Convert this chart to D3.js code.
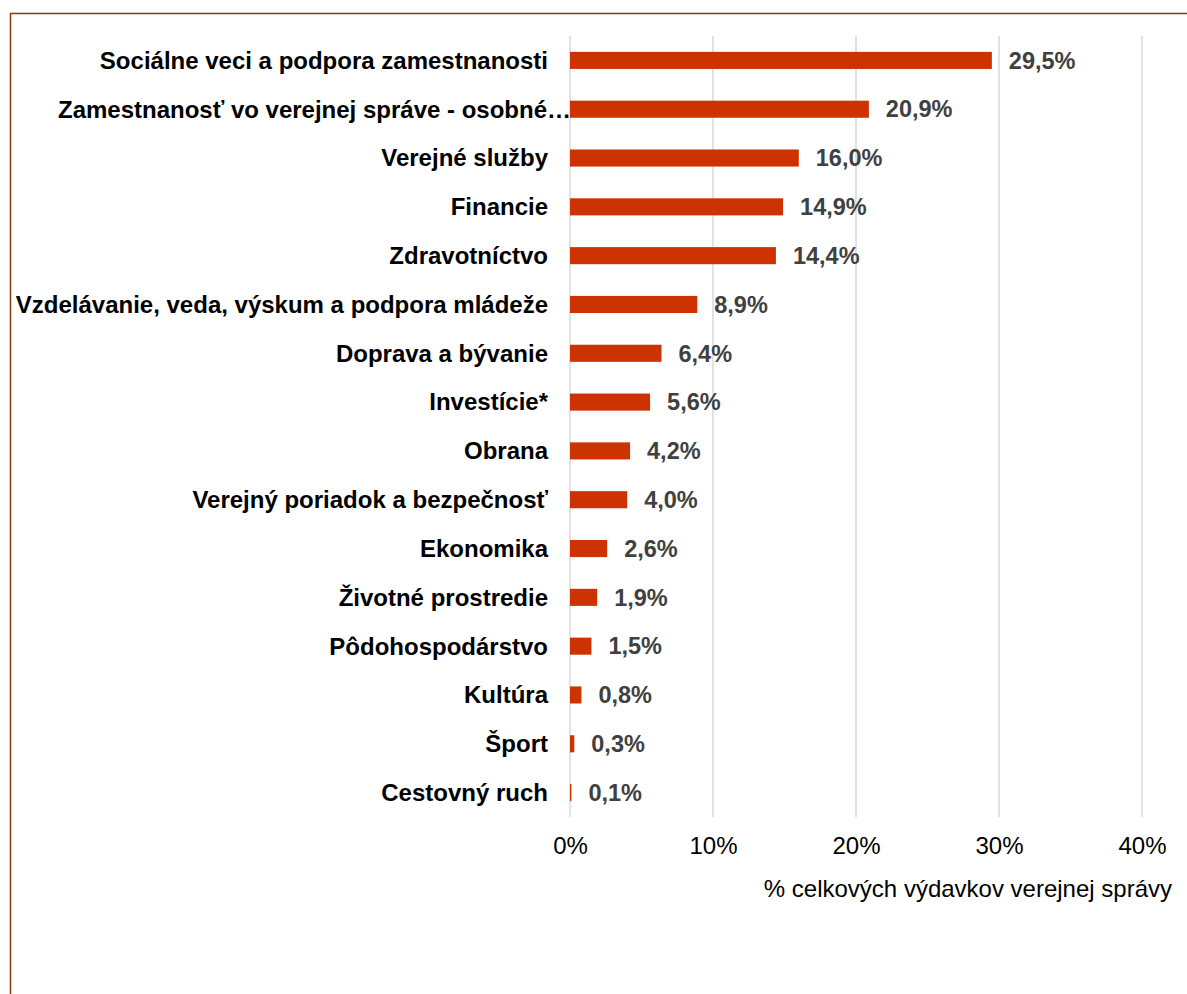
<!DOCTYPE html>
<html><head><meta charset="utf-8">
<script src="https://cdn.jsdelivr.net/npm/d3@7"></script>
<style>body{margin:0;background:#fff}svg{display:block}text{font-family:"Liberation Sans",Arial,sans-serif}</style>
</head><body><svg id="c" width="1187" height="994"></svg>
<script>
const categories = ["Sociálne veci a podpora zamestnanosti","Zamestnanosť vo verejnej správe - osobné…","Verejné služby","Financie","Zdravotníctvo","Vzdelávanie, veda, výskum a podpora mládeže","Doprava a bývanie","Investície*","Obrana","Verejný poriadok a bezpečnosť","Ekonomika","Životné prostredie","Pôdohospodárstvo","Kultúra","Šport","Cestovný ruch"];
const values = [29.5,20.9,16.0,14.9,14.4,8.9,6.4,5.6,4.2,4.0,2.6,1.9,1.5,0.8,0.3,0.1];
const tickValues = [0,10,20,30,40];
const tickLabels = ["0%","10%","20%","30%","40%"];
const axisTitle = "% celkových výdavkov verejnej správy";

const svg = d3.select("#c");
// frame
svg.append("line").attr("x1",10).attr("x2",1187).attr("y1",13.5).attr("y2",13.5).attr("stroke","#843C0C").attr("stroke-width",1.5);
svg.append("line").attr("x1",10.5).attr("x2",10.5).attr("y1",13).attr("y2",994).attr("stroke","#843C0C").attr("stroke-width",1.5);

const x = d3.scaleLinear().domain([0,40]).range([570,1142]);
const y = d3.scaleBand().domain(categories).range([36,817]).paddingInner(0.65).paddingOuter(0.325);

// gridlines
svg.append("g").selectAll("line").data(tickValues).join("line")
  .attr("x1",d=>x(d)).attr("x2",d=>x(d)).attr("y1",36).attr("y2",817)
  .attr("stroke","#d9d9d9").attr("stroke-width",1.5);

// bars
svg.append("g").selectAll("rect").data(values).join("rect")
  .attr("x",x(0)).attr("y",(d,i)=>y(categories[i]))
  .attr("width",d=>x(d)-x(0)).attr("height",y.bandwidth())
  .attr("fill","#CC3300");

// value labels
svg.append("g").selectAll("text").data(values).join("text")
  .attr("x",d=>x(d)+17).attr("y",(d,i)=>y(categories[i])+y.bandwidth()/2)
  .attr("dy","0.35em").attr("font-size",23.5).attr("font-weight","bold").attr("fill","#404040")
  .text(d=>d.toFixed(1).replace(".",",")+"%");

// category labels
svg.append("g").selectAll("text").data(categories).join("text")
  .attr("x",(d,i)=>i===1?571:548).attr("y",d=>y(d)+y.bandwidth()/2)
  .attr("dy","0.35em").attr("text-anchor","end").attr("font-size",24).attr("font-weight","bold").attr("fill","#000")
  .text(d=>d);

// x axis tick labels
const xAxis = d3.axisBottom(x).tickValues(tickValues).tickFormat((d,i)=>tickLabels[i]).tickSize(0).tickPadding(0);
const gx = svg.append("g").attr("transform","translate(0,837)").call(xAxis);
gx.select(".domain").remove();
gx.selectAll("text").attr("font-size",24).attr("fill","#000").attr("font-family","Liberation Sans, Arial, sans-serif");

svg.append("text").attr("x",1172).attr("y",897).attr("text-anchor","end").attr("font-size",24).attr("fill","#000").text(axisTitle);
</script></body></html>
